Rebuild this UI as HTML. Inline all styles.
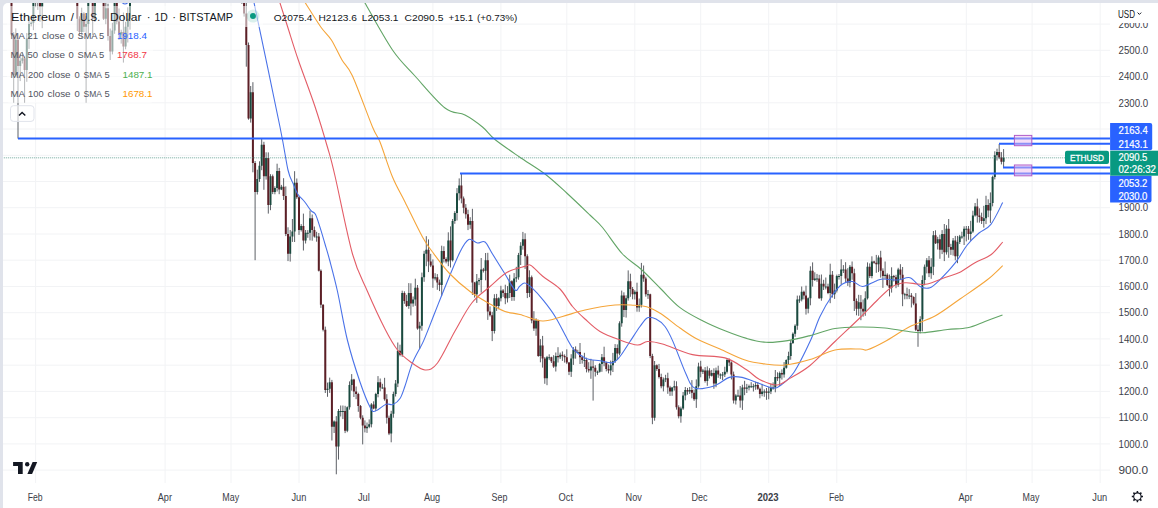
<!DOCTYPE html>
<html><head><meta charset="utf-8">
<style>
html,body{margin:0;padding:0;width:1158px;height:508px;overflow:hidden;background:#e0e3eb;}
#pane{position:absolute;left:3px;top:3px;width:1155px;height:505px;background:#fff;border-top-left-radius:5px;overflow:hidden;}
svg{position:absolute;left:-3px;top:-3px;}
text{font-family:"Liberation Sans",sans-serif;}
</style></head><body>
<div id="pane">
<svg width="1158" height="508" viewBox="0 0 1158 508">
<path d="M0 470.1H1110M0 443.9H1110M0 417.7H1110M0 391.4H1110M0 365.2H1110M0 338.9H1110M0 312.7H1110M0 286.5H1110M0 260.2H1110M0 234H1110M0 207.7H1110M0 181.5H1110M0 155.3H1110M0 129H1110M0 102.8H1110M0 76.5H1110M0 50.3H1110M0 24.1H1110M35.6 0V483M165.1 0V483M231 0V483M299 0V483M364.9 0V483M432.9 0V483M500.9 0V483M566.8 0V483M634.8 0V483M700.7 0V483M768.7 0V483M836.8 0V483M966.3 0V483M1032.1 0V483M1100.2 0V483" stroke="#f2f3f5" stroke-width="1" fill="none"/>
<path d="M15.8 28.4V76.5M20.2 53.6V81.1M22.4 51.9V63.5M26.8 33V81.8M29 16.3V48.9M31.2 21.4V26.4M33.4 -8.8V30.1M35.6 -34.9V7.2M42.2 -86.3V28.2M44.4 -91.1V-70.3M46.6 -100V-84.5M48.8 -132V-80.7M53.2 -156.9V-101.6M57.5 -124V-86.1M64.1 -53.6V-47.3M66.3 -114.2V-41.1M81.7 7.7V38.8M86.1 16.1V102.8M88.3 -34.3V36.9M94.9 -66.9V22M97.1 -76.5V-56.4M105.8 -6V24.2M112.4 22.8V54.4M114.6 -13.8V33.8M121.2 29.7V43.6M125.6 21.8V49.3M127.8 7.3V42.5M130 -26V29.7M132.2 -54V-1.3M134.4 -84.1V-25M136.6 -75.3V-63.9M141 -74.1V-33.8M143.2 -99.4V-30.3M145.3 -93.5V-69.6M147.5 -113.4V-80.7M149.7 -131.9V-95.8M151.9 -132.4V-105.7M154.1 -180.2V-96.9M156.3 -180.7V-152.8M158.5 -196.5V-146.2M165.1 -202V-143.5M167.3 -205.6V-176.5M169.5 -239V-185.7M178.3 -149V-116.9M180.5 -151.3V-132M182.7 -158.6V-143.2M189.2 -103.1V-60.7M191.4 -130.7V-79.2M195.8 -100.1V-82.8M200.2 -109.1V-74.3M202.4 -116.2V-87.1M204.6 -133.6V-95.3M217.8 -98.4V-44.1M222.2 -52.4V-29.4M224.4 -81.4V-31.1M231 -47.2V-4.7M233.1 -60.3V-22.4M237.5 -69.2V-17.6M250.7 86V122.6M257.3 169.7V194.5M259.5 161.3V181.9M261.7 138.5V170.2M266.1 152.3V179.6M270.5 174.2V210.2M274.9 186.3V194.3M277.1 163.7V191.5M281.4 184.9V190.1M290.2 230V261.6M292.4 219V241.9M294.6 171.2V242M301.2 224.1V231.5M305.6 230V243.5M307.8 230.1V237.8M310 210.5V240.4M316.6 231.8V241.7M327.5 382.6V396.8M329.7 377.6V392.9M334.1 420.4V433M338.5 409V459.6M340.7 405.5V416.5M342.9 405.5V419.1M347.3 406.4V432.2M349.5 381.4V409.6M351.7 374.1V390.7M367 422.5V432.9M369.2 419.4V428.2M371.4 403.1V427.4M375.8 392.8V411M378 376.1V397.3M382.4 383.8V388.7M391.2 410.8V442.3M393.4 391.6V417.7M395.6 380V396.5M397.8 342.5V387.1M402.2 290.7V356.8M408.8 283.1V308.8M413.1 296.5V306.7M415.3 278.7V305.8M419.7 321.8V348.9M421.9 272.6V330.7M424.1 250.8V281.8M426.3 236.2V266.2M435.1 273.2V280.4M441.7 245.7V295.8M448.3 232.3V266.2M452.6 219V261.5M454.8 211.2V223.8M457 188.1V220.5M459.2 178.4V200.4M470.2 217.2V228.8M476.8 274V302.9M479 277.9V285.2M481.2 258V292.6M485.6 253V280.3M494.4 294.2V333.5M498.7 297.3V309.2M500.9 285.8V301.4M507.5 286.1V302.5M509.7 274.7V298M514.1 273.1V300.8M516.3 266.8V282.2M518.5 252.9V279.7M520.7 242.2V265M522.9 231.9V249.7M529.5 270.3V297.1M536.1 318.3V335.8M540.4 339.1V362.3M547 355.9V385.2M549.2 354.3V360.1M555.8 352.5V371.5M560.2 352.6V359.1M571.2 354.2V376.9M573.4 347.1V364.9M577.8 349.8V352.8M584.4 352.8V367M590.9 358.8V378.8M597.5 370.6V374.9M599.7 362.9V372.6M601.9 354V371.8M610.7 360.6V375.3M612.9 352.9V372M615.1 344.1V363M619.5 321.3V355.3M621.7 290.6V326.7M626.1 295.3V317.6M628.2 270.4V300.6M634.8 290.2V299.5M639.2 298.5V311.8M641.4 262.9V307.5M648 290V298.9M654.6 361V420.7M663.4 377.5V391.4M665.6 374.8V382.1M672.1 386.9V395.8M674.3 380.7V390.6M680.9 406.6V422.7M683.1 392V409.9M685.3 387V400.3M689.7 387V393.9M696.3 379.4V407.9M698.5 362.7V387.7M702.9 368.9V374M707.3 366.4V385.8M711.7 369.9V376.5M716 367.6V387.2M720.4 373.4V378.9M722.6 372V380.1M724.8 366.7V377M727 358.3V373.5M735.8 394.2V404.5M738 389.7V396.8M742.4 384.7V409.9M746.8 383.9V393M749 384.6V390.4M751.2 382.2V387.8M753.4 383.8V391.5M755.6 381.7V389.8M762.1 383.9V396.3M764.3 389.4V396.8M768.7 386.8V399.3M770.9 383.5V394.1M773.1 382.4V389.7M775.3 370V392.3M779.7 371.5V386.1M784.1 362.1V377.6M786.3 359.4V368.7M788.5 351.7V364.9M790.7 340.2V359.7M792.9 332.4V344M795.1 324.3V336.8M797.3 295.6V329.8M799.5 295.5V302.8M801.7 286.5V301.4M808.2 297.4V313.3M810.4 266.3V305.3M814.8 272.3V281M817 273.9V281.8M821.4 274.5V300.7M825.8 277.5V289.4M830.2 263.7V303.2M834.6 283.6V298.9M836.8 274.6V292.5M839 274V279.6M841.2 259.3V284.7M843.4 265.1V273M849.9 265V287.3M858.7 294.8V315.9M865.3 291.3V315.8M867.5 262.4V299.5M871.9 256.3V278.3M878.5 255.4V272.1M885.1 261.5V278.9M891.6 267.3V292.6M898.2 267.8V286.8M904.8 292.8V299.3M909.2 289.1V299.1M920.2 316.2V333.4M922.4 275.4V331.4M924.6 264.5V285.3M926.8 258.1V273.4M931.2 258.2V278.8M933.4 231V275.1M937.7 236.8V249.5M942.1 230.1V254.1M946.5 225.2V254.6M953.1 238V255.6M957.5 235.9V263.2M959.7 234.9V244M961.9 231.7V238.8M964.1 226.3V245M966.3 226V241.4M970.7 220.8V240.9M972.9 210.7V232.9M975.1 203V216.7M983.8 205.8V227.6M986 195.8V224.1M990.4 192.4V222.9M992.6 175.7V206.4M994.8 151.3V179.4M997 148.7V160.5M1003.6 149.1V167.6M7.1 -135.2V-97.1M9.3 -112.6V-76.8M11.5 -85.2V35.7M13.7 32.2V102.8M18 33.2V138.6M24.6 56.3V102.8M37.8 -40.8V9.9M40 -6.6V21.8M51 -125.1V-93.8M55.4 -167.1V-88.8M59.7 -139.8V-46M61.9 -68.4V-40.4M68.5 -115.9V-91.8M70.7 -101.1V-37.4M72.9 -64.6V-10.2M75.1 -32.6V-7.1M77.3 -29.4V31.1M79.5 16.3V34.9M83.9 12.2V32.1M90.5 -26.4V-3.2M92.7 -38.1V35M99.3 -76.1V-62.9M101.4 -68.8V-35.5M103.6 -41.4V20M108 3.7V40.6M110.2 28.5V60M116.8 -15.4V24.3M119 8.5V40M123.4 12.5V62.6M138.8 -70.7V-41.4M160.7 -199.7V-166.6M162.9 -202V-146.8M171.7 -222.4V-209.3M173.9 -232.7V-168.5M176.1 -199.4V-101.6M184.9 -163.3V-122M187.1 -153.2V-66.5M193.6 -129.5V-81.9M198 -101.5V-67.7M206.8 -141.3V-90.3M209 -112.8V-65.9M211.2 -87.7V-58.2M213.4 -86.1V-53M215.6 -87.7V-51.6M220 -83.1V-26.1M226.6 -72.8V-26.6M228.8 -42.3V-0.7M235.3 -49.2V-17.4M239.7 -67.9V-3.3M241.9 -17.3V3.8M244.1 -12.1V16.6M246.3 -4.5V66.7M248.5 42.5V119.7M252.9 82.2V172.3M255.1 161V260.2M263.9 141.8V189.8M268.3 152.4V213.6M272.7 174.5V194.1M279.2 167.9V194.2M283.6 178.2V200M285.8 186.4V236.1M288 227.3V261.1M296.8 178.5V198.9M299 196.1V234.9M303.4 213.6V250.5M312.2 214.5V240.7M314.4 226.5V237.6M318.8 233V271.5M320.9 269.4V307.9M323.1 304.2V331.4M325.3 326.6V393M331.9 379.9V440.5M336.3 416.1V474.3M345.1 405.8V433.1M353.9 378.8V397M356.1 386.5V399.2M358.3 392.7V411.8M360.5 405V419.3M362.7 415.3V444.4M364.9 420.4V432.4M373.6 401.3V409.2M380.2 378.5V391.3M384.6 377.8V400.7M386.8 394.2V423.6M389 415.6V435.1M400 344.7V356.3M404.4 291.3V303.8M406.6 294.8V307M410.9 283.3V315.4M417.5 285V329.7M428.5 239.4V272.1M430.7 253.8V267.1M432.9 259.4V287.8M437.3 274.1V289.8M439.5 279.6V291.1M443.9 246.3V262.5M446.1 257.3V263.4M450.5 226.4V267.5M461.4 173.6V203.3M463.6 196.5V213.3M465.8 204.1V218.6M468 209.7V230.1M472.4 208.8V294.9M474.6 281.9V297.6M483.4 267.9V272.5M487.8 252.8V319.9M490 306.4V316.6M492.2 311.8V341.1M496.6 293.9V310.9M503.1 289.1V296.9M505.3 284.7V304.2M511.9 280.2V300.9M525.1 233.3V268.9M527.3 254.3V298.1M531.7 275.5V323.3M533.9 311.2V330.9M538.3 319.8V356.8M542.6 335.9V367.6M544.8 357V383.8M551.4 356.7V363M553.6 355.2V367.9M558 347.2V362.5M562.4 351.4V360.9M564.6 354.4V362.6M566.8 349.3V364.1M569 361.9V375.1M575.6 346.4V358.7M580 343V364M582.2 355.7V363.6M586.5 357.7V372.4M588.7 362.2V372.5M593.1 360.2V400.6M595.3 365.2V376.5M604.1 346.7V366.3M606.3 361.7V371.4M608.5 364.5V373.4M617.3 344.4V359.8M623.9 292.3V317.1M630.4 273.7V296.8M632.6 287V299.3M637 282.7V311.7M643.6 265.5V281.8M645.8 276.7V296.7M650.2 293.7V358.1M652.4 353.8V424.2M656.8 364.4V370.9M659 363.9V378.5M661.2 373.7V388.3M667.8 372.7V393.8M670 385.8V395.9M676.5 381.3V409.6M678.7 405.3V418.4M687.5 387.9V394.7M691.9 380.1V398.3M694.1 389.5V400.9M700.7 360.8V377.3M705.1 367.1V382.6M709.5 368.2V378.5M713.9 368.3V388.8M718.2 365.7V377.8M729.2 358.5V366.1M731.4 361.4V379.4M733.6 371.6V403.5M740.2 386V407.7M744.6 380.8V395.2M757.8 382V389.9M759.9 387.6V398.3M766.5 388V399.8M777.5 372.3V380.9M781.9 369.4V379.6M803.9 290.6V299.4M806 285.7V314.6M812.6 262.4V286.6M819.2 274.8V298.9M823.6 279.8V290M828 283.7V294.2M832.4 271V297.6M845.6 262.2V283M847.8 268.2V285.9M852.1 261.5V279.8M854.3 268.7V311M856.5 298.5V315.3M860.9 295.1V320.2M863.1 299.5V316.7M869.7 263.4V277.9M874.1 260.7V263.8M876.3 254.9V272.8M880.7 250.8V277.6M882.9 268.3V287.9M887.3 273.3V286.1M889.5 274.5V296.4M893.8 274.9V281.5M896 274.8V288.2M900.4 264.2V279.4M902.6 267V306.2M907 287.6V299.2M911.4 293.1V307.5M913.6 296.3V305.2M915.8 293.1V331.1M918 325.2V346.8M929 256V277.1M935.5 230.3V244M939.9 234.7V258.8M944.3 224V261.1M948.7 219V257.8M950.9 243.8V254.9M955.3 235.9V260.3M968.5 226V239.8M977.3 198.6V222.6M979.4 208.3V222.6M981.6 212.7V224M988.2 199.3V217.2M999.2 144V159.2M1001.4 152.1V164.4" stroke="#5d6066" stroke-width="1" fill="none"/>
<path d="M14.8 39.8h2V75.2h-2ZM19.2 60.8h2V66h-2ZM21.4 58.2h2V60.8h-2ZM25.8 38.5h2V70h-2ZM28 24.1h2V38.5h-2ZM30.2 22.7h2V24.1h-2ZM32.4 0.4h2V22.7h-2ZM34.6 -25.8h2V0.4h-2ZM41.2 -78.3h2V7h-2ZM43.4 -86.1h2V-78.3h-2ZM45.6 -94h2V-86.1h-2ZM47.8 -115h2V-94h-2ZM52.2 -143.9h2V-112.4h-2ZM56.5 -120.3h2V-101.9h-2ZM63.1 -49.4h2V-48.4h-2ZM65.3 -112.4h2V-49.4h-2ZM80.7 13.6h2V31.9h-2ZM85.1 24.1h2V26.7h-2ZM87.3 -23.2h2V24.1h-2ZM93.9 -59.9h2V18.8h-2ZM96.1 -73h2V-59.9h-2ZM104.8 8.3h2V18.8h-2ZM111.4 30.6h2V51.6h-2ZM113.6 -10.1h2V30.6h-2ZM120.2 31.9h2V34.6h-2ZM124.6 26.7h2V46.4h-2ZM126.8 18.8h2V26.7h-2ZM129 -21.9h2V18.8h-2ZM131.2 -32.4h2V-21.9h-2ZM133.4 -66.5h2V-32.4h-2ZM135.6 -67.8h2V-66.5h-2ZM140 -54.7h2V-44.2h-2ZM142.2 -74.3h2V-54.7h-2ZM144.3 -88.8h2V-74.3h-2ZM146.5 -109.8h2V-88.8h-2ZM148.7 -109.8h2V-108.8h-2ZM150.9 -115h2V-109.8h-2ZM153.1 -159.6h2V-115h-2ZM155.3 -167.5h2V-159.6h-2ZM157.5 -185.9h2V-167.5h-2ZM164.1 -199h2V-154.4h-2ZM166.3 -199h2V-198h-2ZM168.5 -217.3h2V-199h-2ZM177.3 -141.3h2V-125.5h-2ZM179.5 -146.5h2V-141.3h-2ZM181.7 -151.7h2V-146.5h-2ZM188.2 -88.8h2V-75.7h-2ZM190.4 -128.1h2V-88.8h-2ZM194.8 -94h2V-91.4h-2ZM199.2 -94h2V-78.3h-2ZM201.4 -109.8h2V-94h-2ZM203.6 -120.3h2V-109.8h-2ZM216.8 -80.9h2V-59.9h-2ZM221.2 -49.4h2V-31h-2ZM223.4 -65.2h2V-49.4h-2ZM230 -36.3h2V-10.1h-2ZM232.1 -44.2h2V-36.3h-2ZM236.5 -65.2h2V-23.2h-2ZM249.7 92.3h2V118.5h-2ZM256.3 178.9h2V192h-2ZM258.5 165.8h2V178.9h-2ZM260.7 144.8h2V165.8h-2ZM265.1 157.9h2V176.3h-2ZM269.5 176.3h2V205.1h-2ZM273.9 188.1h2V192h-2ZM276.1 171h2V188.1h-2ZM280.4 186.7h2V189.4h-2ZM289.2 236.6h2V253.7h-2ZM291.4 231.4h2V236.6h-2ZM293.6 182.8h2V231.4h-2ZM300.2 226.1h2V230h-2ZM304.6 232.7h2V240.5h-2ZM306.8 232.7h2V233.7h-2ZM309 218.2h2V232.7h-2ZM315.6 236.6h2V237.6h-2ZM326.5 388.8h2V390.1h-2ZM328.7 382.2h2V388.8h-2ZM333.1 421.6h2V426.8h-2ZM337.5 411.1h2V446.5h-2ZM339.7 411.1h2V412.1h-2ZM341.9 411.1h2V412.1h-2ZM346.3 407.2h2V430.8h-2ZM348.5 384.9h2V407.2h-2ZM350.7 379.6h2V384.9h-2ZM366 426.8h2V428.2h-2ZM368.2 424.2h2V426.8h-2ZM370.4 404.5h2V424.2h-2ZM374.8 394h2V408.5h-2ZM377 382.2h2V394h-2ZM381.4 387.5h2V388.5h-2ZM390.2 413.7h2V433.4h-2ZM392.4 394h2V413.7h-2ZM394.6 383.5h2V394h-2ZM396.8 350.7h2V383.5h-2ZM401.2 293h2V354.7h-2ZM407.8 293h2V306.1h-2ZM412.1 299.6h2V303.5h-2ZM414.3 287.8h2V299.6h-2ZM418.7 325.8h2V328.4h-2ZM420.9 277.3h2V325.8h-2ZM423.1 253.7h2V277.3h-2ZM425.3 249.7h2V253.7h-2ZM434.1 277.3h2V278.6h-2ZM440.7 251h2V285.1h-2ZM447.3 240.5h2V261.5h-2ZM451.6 220.9h2V260.2h-2ZM453.8 213h2V220.9h-2ZM456 193.3h2V213h-2ZM458.2 185.4h2V193.3h-2ZM469.2 220.9h2V224.8h-2ZM475.8 281.2h2V294.3h-2ZM478 279.9h2V281.2h-2ZM480.2 269.4h2V279.9h-2ZM484.6 260.2h2V270.7h-2ZM493.4 298.3h2V331.1h-2ZM497.7 298.3h2V306.1h-2ZM499.9 290.4h2V298.3h-2ZM506.5 293h2V298.3h-2ZM508.7 281.2h2V293h-2ZM513.1 278.6h2V297h-2ZM515.3 277.3h2V278.6h-2ZM517.5 255h2V277.3h-2ZM519.7 245.8h2V255h-2ZM521.9 239.2h2V245.8h-2ZM528.5 277.3h2V293h-2ZM535.1 320.6h2V328.4h-2ZM539.4 345.5h2V356h-2ZM546 357.3h2V378.3h-2ZM548.2 357.3h2V358.3h-2ZM554.8 356h2V366.5h-2ZM559.2 354.7h2V357.3h-2ZM570.2 358.6h2V371.7h-2ZM572.4 349.4h2V358.6h-2ZM576.8 352.1h2V353.1h-2ZM583.4 359.9h2V360.9h-2ZM589.9 366.5h2V370.4h-2ZM596.5 371.7h2V372.7h-2ZM598.7 363.9h2V371.7h-2ZM600.9 357.3h2V363.9h-2ZM609.7 365.2h2V370.4h-2ZM611.9 361.2h2V365.2h-2ZM614.1 348.1h2V361.2h-2ZM618.5 323.2h2V353.4h-2ZM620.7 295.6h2V323.2h-2ZM625.1 298.3h2V310.1h-2ZM627.2 281.2h2V298.3h-2ZM633.8 291.7h2V294.3h-2ZM638.2 304.8h2V307.5h-2ZM640.4 274.7h2V304.8h-2ZM647 294.3h2V295.3h-2ZM653.6 365.2h2V417.7h-2ZM662.4 379.6h2V386.2h-2ZM664.6 378.3h2V379.6h-2ZM671.1 387.5h2V391.4h-2ZM673.3 386.2h2V387.5h-2ZM679.9 408.5h2V416.3h-2ZM682.1 395.4h2V408.5h-2ZM684.3 390.1h2V395.4h-2ZM688.7 390.1h2V391.4h-2ZM695.3 386.2h2V399.3h-2ZM697.5 366.5h2V386.2h-2ZM701.9 370.4h2V371.7h-2ZM706.3 370.4h2V380.9h-2ZM710.7 373.1h2V375.7h-2ZM715 370.4h2V383.5h-2ZM719.4 374.4h2V375.4h-2ZM721.6 374.4h2V375.4h-2ZM723.8 371.7h2V374.4h-2ZM726 359.9h2V371.7h-2ZM734.8 395.4h2V400.6h-2ZM737 395.4h2V396.4h-2ZM741.4 387.5h2V400.6h-2ZM745.8 387.5h2V388.8h-2ZM748 386.2h2V387.5h-2ZM750.2 386.2h2V387.2h-2ZM752.4 386.2h2V387.2h-2ZM754.6 384.9h2V386.2h-2ZM761.1 391.4h2V394h-2ZM763.3 391.4h2V392.4h-2ZM767.7 391.4h2V392.7h-2ZM769.9 387.5h2V391.4h-2ZM772.1 387.5h2V388.5h-2ZM774.3 377h2V387.5h-2ZM778.7 373.1h2V378.3h-2ZM783.1 367.8h2V374.4h-2ZM785.3 359.9h2V367.8h-2ZM787.5 356h2V359.9h-2ZM789.7 342.9h2V356h-2ZM791.9 333.7h2V342.9h-2ZM794.1 325.8h2V333.7h-2ZM796.3 299.6h2V325.8h-2ZM798.5 299.6h2V300.6h-2ZM800.7 291.7h2V299.6h-2ZM807.2 298.3h2V308.8h-2ZM809.4 270.7h2V298.3h-2ZM813.8 278.6h2V279.9h-2ZM816 278.6h2V279.6h-2ZM820.4 283.8h2V298.3h-2ZM824.8 286.5h2V287.5h-2ZM829.2 274.7h2V293h-2ZM833.6 290.4h2V294.3h-2ZM835.8 276h2V290.4h-2ZM838 276h2V277h-2ZM840.2 269.4h2V276h-2ZM842.4 269.4h2V270.4h-2ZM848.9 266.8h2V282.5h-2ZM857.7 302.2h2V308.8h-2ZM864.3 298.3h2V311.4h-2ZM866.5 266.8h2V298.3h-2ZM870.9 261.5h2V276h-2ZM877.5 257.6h2V264.2h-2ZM884.1 274.7h2V276h-2ZM890.6 276h2V287.8h-2ZM897.2 269.4h2V285.1h-2ZM903.8 294.3h2V295.3h-2ZM908.2 295.6h2V296.6h-2ZM919.2 319.3h2V331.1h-2ZM921.4 279.9h2V319.3h-2ZM923.6 266.8h2V279.9h-2ZM925.8 260.2h2V266.8h-2ZM930.2 266.8h2V273.3h-2ZM932.4 235.3h2V266.8h-2ZM936.7 239.2h2V243.2h-2ZM941.1 234h2V249.7h-2ZM945.5 228.7h2V252.3h-2ZM952.1 240.5h2V249.7h-2ZM956.5 241.9h2V256.3h-2ZM958.7 236.6h2V241.9h-2ZM960.9 236.6h2V237.6h-2ZM963.1 228.7h2V236.6h-2ZM965.3 228.7h2V229.7h-2ZM969.7 231.4h2V234h-2ZM971.9 215.6h2V231.4h-2ZM974.1 206.4h2V215.6h-2ZM982.8 218.2h2V220.9h-2ZM985 205.1h2V218.2h-2ZM989.4 203h2V210.4h-2ZM991.6 177h2V203h-2ZM993.8 155.3h2V177h-2ZM996 152.1h2V155.3h-2ZM1002.6 157.8h2V161.7h-2Z" fill="#1a4a3f" stroke="none"/>
<path d="M6.1 -131.5h2V-107.1h-2ZM8.3 -107.1h2V-80.9h-2ZM10.5 -80.9h2V34.6h-2ZM12.7 34.6h2V75.2h-2ZM17 39.8h2V66h-2ZM23.6 58.2h2V70h-2ZM36.8 -25.8h2V3.1h-2ZM39 3.1h2V7h-2ZM50 -115h2V-112.4h-2ZM54.4 -143.9h2V-101.9h-2ZM58.7 -120.3h2V-62.5h-2ZM60.9 -62.5h2V-49.4h-2ZM67.5 -112.4h2V-96.6h-2ZM69.7 -96.6h2V-49.4h-2ZM71.9 -49.4h2V-24.5h-2ZM74.1 -24.5h2V-17.9h-2ZM76.3 -17.9h2V18.8h-2ZM78.5 18.8h2V31.9h-2ZM82.9 13.6h2V26.7h-2ZM89.5 -23.2h2V-20.5h-2ZM91.7 -20.5h2V18.8h-2ZM98.3 -73h2V-67.8h-2ZM100.4 -67.8h2V-37.6h-2ZM102.6 -37.6h2V18.8h-2ZM107 8.3h2V35.9h-2ZM109.2 35.9h2V51.6h-2ZM115.8 -10.1h2V21.4h-2ZM118 21.4h2V34.6h-2ZM122.4 31.9h2V46.4h-2ZM137.8 -67.8h2V-44.2h-2ZM159.7 -185.9h2V-180.6h-2ZM161.9 -180.6h2V-154.4h-2ZM170.7 -217.3h2V-212.1h-2ZM172.9 -212.1h2V-185.9h-2ZM175.1 -185.9h2V-125.5h-2ZM183.9 -151.7h2V-136h-2ZM186.1 -136h2V-75.7h-2ZM192.6 -128.1h2V-91.4h-2ZM197 -94h2V-78.3h-2ZM205.8 -120.3h2V-101.9h-2ZM208 -101.9h2V-77h-2ZM210.2 -77h2V-70.4h-2ZM212.4 -70.4h2V-65.2h-2ZM214.6 -65.2h2V-59.9h-2ZM219 -80.9h2V-31h-2ZM225.6 -65.2h2V-33.7h-2ZM227.8 -33.7h2V-10.1h-2ZM234.3 -44.2h2V-23.2h-2ZM238.7 -65.2h2V-15.3h-2ZM240.9 -15.3h2V-2.2h-2ZM243.1 -2.2h2V13.6h-2ZM245.3 13.6h2V45.1h-2ZM247.5 45.1h2V118.5h-2ZM251.9 92.3h2V163.1h-2ZM254.1 163.1h2V192h-2ZM262.9 144.8h2V176.3h-2ZM267.3 157.9h2V205.1h-2ZM271.7 176.3h2V192h-2ZM278.2 171h2V189.4h-2ZM282.6 186.7h2V195.9h-2ZM284.8 195.9h2V234h-2ZM287 234h2V253.7h-2ZM295.8 182.8h2V197.2h-2ZM298 197.2h2V230h-2ZM302.4 226.1h2V240.5h-2ZM311.2 218.2h2V230h-2ZM313.4 230h2V236.6h-2ZM317.8 236.6h2V270.7h-2ZM319.9 270.7h2V304.8h-2ZM322.1 304.8h2V329.8h-2ZM324.3 329.8h2V390.1h-2ZM330.9 382.2h2V426.8h-2ZM335.3 421.6h2V446.5h-2ZM344.1 411.1h2V430.8h-2ZM352.9 379.6h2V391.4h-2ZM355.1 391.4h2V394h-2ZM357.3 394h2V405.9h-2ZM359.5 405.9h2V417.7h-2ZM361.7 417.7h2V425.5h-2ZM363.9 425.5h2V428.2h-2ZM372.6 404.5h2V408.5h-2ZM379.2 382.2h2V387.5h-2ZM383.6 387.5h2V399.3h-2ZM385.8 399.3h2V417.7h-2ZM388 417.7h2V433.4h-2ZM399 350.7h2V354.7h-2ZM403.4 293h2V300.9h-2ZM405.6 300.9h2V306.1h-2ZM409.9 293h2V303.5h-2ZM416.5 287.8h2V328.4h-2ZM427.5 249.7h2V261.5h-2ZM429.7 261.5h2V265.5h-2ZM431.9 265.5h2V278.6h-2ZM436.3 277.3h2V282.5h-2ZM438.5 282.5h2V285.1h-2ZM442.9 251h2V258.9h-2ZM445.1 258.9h2V261.5h-2ZM449.5 240.5h2V260.2h-2ZM460.4 185.4h2V198.6h-2ZM462.6 198.6h2V207.7h-2ZM464.8 207.7h2V214.3h-2ZM467 214.3h2V224.8h-2ZM471.4 220.9h2V282.5h-2ZM473.6 282.5h2V294.3h-2ZM482.4 269.4h2V270.7h-2ZM486.8 260.2h2V311.4h-2ZM489 311.4h2V315.3h-2ZM491.2 315.3h2V331.1h-2ZM495.6 298.3h2V306.1h-2ZM502.1 290.4h2V293h-2ZM504.3 293h2V298.3h-2ZM510.9 281.2h2V297h-2ZM524.1 239.2h2V256.3h-2ZM526.3 256.3h2V293h-2ZM530.7 277.3h2V320.6h-2ZM532.9 320.6h2V328.4h-2ZM537.3 320.6h2V356h-2ZM541.6 345.5h2V358.6h-2ZM543.8 358.6h2V378.3h-2ZM550.4 357.3h2V361.2h-2ZM552.6 361.2h2V366.5h-2ZM557 356h2V357.3h-2ZM561.4 354.7h2V356h-2ZM563.6 356h2V357.3h-2ZM565.8 357.3h2V362.6h-2ZM568 362.6h2V371.7h-2ZM574.6 349.4h2V352.1h-2ZM579 352.1h2V357.3h-2ZM581.2 357.3h2V359.9h-2ZM585.5 359.9h2V369.1h-2ZM587.7 369.1h2V370.4h-2ZM592.1 366.5h2V367.8h-2ZM594.3 367.8h2V371.7h-2ZM603.1 357.3h2V362.6h-2ZM605.3 362.6h2V369.1h-2ZM607.5 369.1h2V370.4h-2ZM616.3 348.1h2V353.4h-2ZM622.9 295.6h2V310.1h-2ZM629.4 281.2h2V289.1h-2ZM631.6 289.1h2V294.3h-2ZM636 291.7h2V307.5h-2ZM642.6 274.7h2V278.6h-2ZM644.8 278.6h2V294.3h-2ZM649.2 294.3h2V356h-2ZM651.4 356h2V417.7h-2ZM655.8 365.2h2V369.1h-2ZM658 369.1h2V377h-2ZM660.2 377h2V386.2h-2ZM666.8 378.3h2V387.5h-2ZM669 387.5h2V391.4h-2ZM675.5 386.2h2V407.2h-2ZM677.7 407.2h2V416.3h-2ZM686.5 390.1h2V391.4h-2ZM690.9 390.1h2V392.7h-2ZM693.1 392.7h2V399.3h-2ZM699.7 366.5h2V371.7h-2ZM704.1 370.4h2V380.9h-2ZM708.5 370.4h2V375.7h-2ZM712.9 373.1h2V383.5h-2ZM717.2 370.4h2V374.4h-2ZM728.2 359.9h2V362.6h-2ZM730.4 362.6h2V374.4h-2ZM732.6 374.4h2V400.6h-2ZM739.2 395.4h2V400.6h-2ZM743.6 387.5h2V388.8h-2ZM756.8 384.9h2V388.8h-2ZM758.9 388.8h2V394h-2ZM765.5 391.4h2V392.7h-2ZM776.5 377h2V378.3h-2ZM780.9 373.1h2V374.4h-2ZM802.9 291.7h2V295.6h-2ZM805 295.6h2V308.8h-2ZM811.6 270.7h2V279.9h-2ZM818.2 278.6h2V298.3h-2ZM822.6 283.8h2V286.5h-2ZM827 286.5h2V293h-2ZM831.4 274.7h2V294.3h-2ZM844.6 269.4h2V278.6h-2ZM846.8 278.6h2V282.5h-2ZM851.1 266.8h2V273.3h-2ZM853.3 273.3h2V300.9h-2ZM855.5 300.9h2V308.8h-2ZM859.9 302.2h2V308.8h-2ZM862.1 308.8h2V311.4h-2ZM868.7 266.8h2V276h-2ZM873.1 261.5h2V262.8h-2ZM875.3 262.8h2V264.2h-2ZM879.7 257.6h2V270.7h-2ZM881.9 270.7h2V276h-2ZM886.3 274.7h2V285.1h-2ZM888.5 285.1h2V287.8h-2ZM892.8 276h2V277.3h-2ZM895 277.3h2V285.1h-2ZM899.4 269.4h2V274.7h-2ZM901.6 274.7h2V294.3h-2ZM906 294.3h2V295.6h-2ZM910.4 295.6h2V297h-2ZM912.6 297h2V303.5h-2ZM914.8 303.5h2V329.8h-2ZM917 329.8h2V331.1h-2ZM928 260.2h2V273.3h-2ZM934.5 235.3h2V243.2h-2ZM938.9 239.2h2V249.7h-2ZM943.3 234h2V252.3h-2ZM947.7 228.7h2V247.1h-2ZM949.9 247.1h2V249.7h-2ZM954.3 240.5h2V256.3h-2ZM967.5 228.7h2V234h-2ZM976.3 206.4h2V215.6h-2ZM978.4 215.6h2V216.9h-2ZM980.6 216.9h2V220.9h-2ZM987.2 205.1h2V210.4h-2ZM998.2 152.1h2V157.6h-2ZM1000.4 157.6h2V161.7h-2Z" fill="#5c1f26" stroke="none"/>
<path d="M117 -2C118.33 -1 122.33 4 125 4C127.67 4 131.67 -1 133 -2M252 -3C252.33 -2.08 249.33 -19.17 254 2.5C258.67 24.17 274.33 99.08 280 127C285.67 154.92 285.78 160.5 288 170C290.22 179.5 291.68 180 293.3 184C294.92 188 295.78 191 297.7 194C299.62 197 302.58 199.22 304.8 202C307.02 204.78 309.23 208.67 311 210.7C312.77 212.73 313.93 211.55 315.4 214.2C316.87 216.85 318.2 221.63 319.8 226.6C321.4 231.57 323.37 238.43 325 244C326.63 249.57 327.52 252.08 329.6 260C331.68 267.92 334.52 278.08 337.5 291.5C340.48 304.92 343.75 325.42 347.5 340.5C351.25 355.58 356.17 370.75 360 382C363.83 393.25 367.92 403.17 370.5 408C373.08 412.83 372.92 411.62 375.5 411C378.08 410.38 383.08 405.38 386 404.3C388.92 403.22 390.67 405.47 393 404.5C395.33 403.53 398 401.58 400 398.5C402 395.42 402.9 391.98 405 386C407.1 380.02 409.48 370.17 412.6 362.6C415.72 355.03 420.02 348.87 423.7 340.6C427.38 332.33 431.03 322.18 434.7 313C438.37 303.82 441.48 295.67 445.7 285.5C449.92 275.33 456.16 259.67 460 252C463.84 244.33 465.83 241 468.75 239.5C471.67 238 474.79 242.58 477.5 243C480.21 243.42 482.5 240.17 485 242C487.5 243.83 489.17 248.67 492.5 254C495.83 259.33 501.25 268 505 274C508.75 280 512.58 287.92 515 290C517.42 292.08 517.88 287.67 519.5 286.5C521.12 285.33 522.65 282.8 524.7 283C526.75 283.2 528.65 284.75 531.8 287.7C534.95 290.65 539.67 295.82 543.6 300.7C547.53 305.58 551.5 310.72 555.4 317C559.3 323.28 563.87 332.87 567 338.4C570.13 343.93 571.03 346.87 574.2 350.2C577.37 353.53 581.7 356.63 586 358.4C590.3 360.17 595.58 360.07 600 360.8C604.42 361.53 609.17 363.47 612.5 362.75C615.83 362.03 617.08 360.04 620 356.5C622.92 352.96 626.67 346.5 630 341.5C633.33 336.5 637.08 330.46 640 326.5C642.92 322.54 644.83 319 647.5 317.75C650.17 316.5 653.08 317.54 656 319C658.92 320.46 662.17 322.73 665 326.5C667.83 330.27 669.5 333.68 673 341.6C676.5 349.52 682.4 366.27 686 374C689.6 381.73 689.93 386 694.6 388C699.27 390 708.22 387.77 714 386C719.78 384.23 724.63 378.83 729.3 377.4C733.97 375.97 737.32 376.5 742 377.4C746.68 378.3 752.32 381.03 757.4 382.8C762.48 384.57 768.57 387.63 772.5 388C776.43 388.37 777.38 387.67 781 385C784.62 382.33 789.37 379.23 794.2 372C799.03 364.77 805.7 350.85 810 341.6C814.3 332.35 816.25 324.27 820 316.5C823.75 308.73 828.75 300.42 832.5 295C836.25 289.58 839.17 286.25 842.5 284C845.83 281.75 849.17 281.08 852.5 281.5C855.83 281.92 858.75 286.5 862.5 286.5C866.25 286.5 871.67 282.75 875 281.5C878.33 280.25 878.75 279.25 882.5 279C886.25 278.75 892.92 280.21 897.5 280C902.08 279.79 906.25 276.67 910 277.75C913.75 278.83 916.67 284.83 920 286.5C923.33 288.17 926.72 288.83 930 287.75C933.28 286.67 935.47 284.18 939.7 280C943.93 275.82 950.82 268.53 955.4 262.7C959.98 256.87 963.27 249.95 967.2 245C971.13 240.05 975.05 236.45 979 233C982.95 229.55 986.95 229.37 990.9 224.3C994.85 219.23 1000.73 206.22 1002.7 202.6" stroke="#4a72e8" stroke-width="1.1" fill="none"/>
<path d="M278 -3C278.33 -2 278.38 -2 280 3C281.62 8 284.65 17.5 287.7 27C290.75 36.5 293.78 46.83 298.3 60C302.82 73.17 309.85 91.17 314.8 106C319.75 120.83 324.63 137.33 328 149C331.37 160.67 330.92 158.5 335 176C339.08 193.5 347.08 234.75 352.5 254C357.92 273.25 362.08 279 367.5 291.5C372.92 304 380 319.25 385 329C390 338.75 393.33 344.58 397.5 350C401.67 355.42 405.42 358.17 410 361.5C414.58 364.83 420.42 369.75 425 370C429.58 370.25 432.5 369.5 437.5 363C442.5 356.5 449.28 341 455 331C460.72 321 466.05 310.33 471.8 303C477.55 295.67 483.6 292.12 489.5 287C495.4 281.88 501.28 275.73 507.2 272.3C513.12 268.87 521.03 267.55 525 266.4C528.97 265.25 528.05 263.75 531 265.4C533.95 267.05 537.87 272.37 542.7 276.3C547.53 280.23 555.03 283.97 560 289C564.97 294.03 568.33 301.5 572.5 306.5C576.67 311.5 580.42 314.83 585 319C589.58 323.17 594.17 328 600 331.5C605.83 335 613.75 337.75 620 340C626.25 342.25 632.92 344.75 637.5 345C642.08 345.25 643.33 341.67 647.5 341.5C651.67 341.33 655 341.82 662.5 344C670 346.18 682.08 352.28 692.5 354.6C702.92 356.92 715.98 355.37 725 357.9C734.02 360.43 740.83 366.2 746.6 369.8C752.37 373.4 754.55 376.97 759.6 379.5C764.65 382.03 771.85 385.18 776.9 385C781.95 384.82 784.38 381.65 789.9 378.4C795.42 375.15 802.48 371.65 810 365.5C817.52 359.35 826.67 349.46 835 341.5C843.33 333.54 852.92 324.67 860 317.75C867.08 310.83 872.08 305.21 877.5 300C882.92 294.79 887.92 289.38 892.5 286.5C897.08 283.62 900.83 283.17 905 282.75C909.17 282.33 913.75 283.79 917.5 284C921.25 284.21 922.92 285.08 927.5 284C932.08 282.92 939.68 279.42 945 277.5C950.32 275.58 954.4 274.97 959.4 272.5C964.4 270.03 969.75 265.65 975 262.7C980.25 259.75 986.28 258.25 990.9 254.8C995.52 251.35 1000.73 244.13 1002.7 242" stroke="#e35d67" stroke-width="1.1" fill="none"/>
<path d="M303 -1C303.4 -0.33 302.43 -1.67 305.4 3C308.37 7.67 316.47 20.83 320.8 27C325.13 33.17 327.87 34.5 331.4 40C334.93 45.5 338.48 54 342 60C345.52 66 347.42 64.83 352.5 76C357.58 87.17 367.92 116 372.5 127C377.08 138 376.67 133.67 380 142C383.33 150.33 388.33 167 392.5 177C396.67 187 400 192 405 202C410 212 417.92 228.67 422.5 237C427.08 245.33 427.92 245.83 432.5 252C437.08 258.17 443.75 267.42 450 274C456.25 280.58 463.33 286.5 470 291.5C476.67 296.5 484.17 300.67 490 304C495.83 307.33 500 309.75 505 311.5C510 313.25 513.75 312.92 520 314.5C526.25 316.08 535.42 320.67 542.5 321C549.58 321.33 555.42 318.33 562.5 316.5C569.58 314.67 576.25 311.92 585 310C593.75 308.08 606.78 305.78 615 305C623.22 304.22 629.02 305.02 634.3 305.3C639.58 305.58 642.25 305.28 646.7 306.7C651.15 308.12 655.45 310.25 661 313.8C666.55 317.35 674 323.8 680 328C686 332.2 690.33 335.5 697 339C703.67 342.5 712 345.5 720 349C728 352.5 737.5 357.5 745 360C752.5 362.5 758.33 363.17 765 364C771.67 364.83 777.5 365.75 785 365C792.5 364.25 801.67 362 810 359.5C818.33 357 826.67 351.75 835 350C843.33 348.25 854.58 349.04 860 349C865.42 348.96 863.33 351 867.5 349.75C871.67 348.5 877.92 345.38 885 341.5C892.08 337.62 901.67 330.75 910 326.5C918.33 322.25 926.67 320.58 935 316C943.33 311.42 951.33 305 960 299C968.67 293 979.88 285.57 987 280C994.12 274.43 1000.08 268 1002.7 265.6" stroke="#f5a53a" stroke-width="1.1" fill="none"/>
<path d="M362 -3C362.5 -2 359.92 -5.83 365 3C370.08 11.83 384.17 37.83 392.5 50C400.83 62.17 406.25 66.33 415 76C423.75 85.67 436.67 101.5 445 108C453.33 114.5 458.75 111.83 465 115C471.25 118.17 477.5 122.92 482.5 127C487.5 131.08 488.83 134.5 495 139.5C501.17 144.5 511.22 151.28 519.5 157C527.78 162.72 536.83 167.8 544.7 173.8C552.57 179.8 559.17 186.13 566.7 193C574.23 199.87 583.93 209.25 589.9 215C595.87 220.75 597.07 221 602.5 227.5C607.93 234 616.02 247 622.5 254C628.98 261 634.98 263.67 641.4 269.5C647.82 275.33 654.57 282.65 661 289C667.43 295.35 673 302.27 680 307.6C687 312.93 695.5 317.13 703 321C710.5 324.87 717.73 327.9 725 330.8C732.27 333.7 739.77 336.48 746.6 338.4C753.43 340.32 759.15 341.93 766 342.3C772.85 342.67 780.37 341.72 787.7 340.6C795.03 339.48 802.12 337.62 810 335.6C817.88 333.58 826.67 329.93 835 328.5C843.33 327.07 851.67 327.08 860 327C868.33 326.92 877.5 327.33 885 328C892.5 328.67 898.75 330.21 905 331C911.25 331.79 915.42 333 922.5 332.75C929.58 332.5 940 330.33 947.5 329.5C955 328.67 961.25 329.08 967.5 327.75C973.75 326.42 979.17 323.62 985 321.5C990.83 319.38 999.58 316.08 1002.5 315" stroke="#62a566" stroke-width="1.1" fill="none"/>
<!-- legend backgrounds -->
<rect x="7" y="6" width="256" height="21" rx="3" fill="#fff" fill-opacity="0.55"/>
<rect x="7" y="27" width="146" height="76" rx="3" fill="#fff" fill-opacity="0.55"/>
<rect x="10.5" y="105.7" width="23.5" height="15.7" rx="3" fill="#fff" fill-opacity="0.6" stroke="#e0e3eb" stroke-width="1"/>
<path d="M19 115.6L22.1 112.4L25.3 115.6" stroke="#131722" stroke-width="1.4" fill="none"/>
<text x="11" y="21" font-size="11.3" fill="#131722" textLength="54.6" lengthAdjust="spacingAndGlyphs">Ethereum</text>
<text x="72.2" y="21" font-size="11.3" fill="#131722" text-anchor="middle">/</text>
<text x="80" y="21" font-size="11.3" fill="#131722" textLength="20" lengthAdjust="spacingAndGlyphs">U.S.</text>
<text x="110" y="21" font-size="11.3" fill="#131722" textLength="31.5" lengthAdjust="spacingAndGlyphs">Dollar</text>
<text x="148.6" y="21" font-size="11.3" fill="#131722" text-anchor="middle">·</text>
<text x="154.5" y="21" font-size="11.3" fill="#131722" textLength="13.3" lengthAdjust="spacingAndGlyphs">1D</text>
<text x="174.2" y="21" font-size="11.3" fill="#131722" text-anchor="middle">·</text>
<text x="179.3" y="21" font-size="11.3" fill="#131722" textLength="53.8" lengthAdjust="spacingAndGlyphs">BITSTAMP</text>
<circle cx="253" cy="16.1" r="6.5" fill="#089981" fill-opacity="0.15"/><circle cx="253" cy="16.1" r="3" fill="#089981"/>
<text x="273.7" y="20.6" font-size="9.6" fill="#131722" textLength="38.8" lengthAdjust="spacingAndGlyphs">O2075.4</text>
<text x="318.5" y="20.6" font-size="9.6" fill="#131722" textLength="38.5" lengthAdjust="spacingAndGlyphs">H2123.6</text>
<text x="361.8" y="20.6" font-size="9.6" fill="#131722" textLength="36.7" lengthAdjust="spacingAndGlyphs">L2053.1</text>
<text x="404.5" y="20.6" font-size="9.6" fill="#131722" textLength="38.9" lengthAdjust="spacingAndGlyphs">C2090.5</text>
<text x="448.5" y="20.6" font-size="9.6" fill="#131722" textLength="24.7" lengthAdjust="spacingAndGlyphs">+15.1</text>
<text x="477" y="20.6" font-size="9.6" fill="#131722" textLength="40.2" lengthAdjust="spacingAndGlyphs">(+0.73%)</text>
<text x="10.6" y="39.2" font-size="9.4" fill="#50535e" textLength="14.4" lengthAdjust="spacingAndGlyphs">MA</text>
<text x="27.5" y="39.2" font-size="9.4" fill="#50535e" textLength="10.6" lengthAdjust="spacingAndGlyphs">21</text>
<text x="41.9" y="39.2" font-size="9.4" fill="#50535e" textLength="23.1" lengthAdjust="spacingAndGlyphs">close</text>
<text x="71.2" y="39.2" font-size="9.4" fill="#50535e" text-anchor="middle">0</text>
<text x="77.5" y="39.2" font-size="9.4" fill="#50535e" textLength="20" lengthAdjust="spacingAndGlyphs">SMA</text>
<text x="101.6" y="39.2" font-size="9.4" fill="#50535e" text-anchor="middle">5</text>
<text x="116.9" y="39.2" font-size="9.4" fill="#2962ff" textLength="30" lengthAdjust="spacingAndGlyphs">1918.4</text>
<text x="10.6" y="58.3" font-size="9.4" fill="#50535e" textLength="14.4" lengthAdjust="spacingAndGlyphs">MA</text>
<text x="27.5" y="58.3" font-size="9.4" fill="#50535e" textLength="10.6" lengthAdjust="spacingAndGlyphs">50</text>
<text x="41.9" y="58.3" font-size="9.4" fill="#50535e" textLength="23.1" lengthAdjust="spacingAndGlyphs">close</text>
<text x="71.2" y="58.3" font-size="9.4" fill="#50535e" text-anchor="middle">0</text>
<text x="77.5" y="58.3" font-size="9.4" fill="#50535e" textLength="20" lengthAdjust="spacingAndGlyphs">SMA</text>
<text x="101.6" y="58.3" font-size="9.4" fill="#50535e" text-anchor="middle">5</text>
<text x="116.9" y="58.3" font-size="9.4" fill="#f23645" textLength="30" lengthAdjust="spacingAndGlyphs">1768.7</text>
<text x="10.6" y="77.9" font-size="9.4" fill="#50535e" textLength="14.4" lengthAdjust="spacingAndGlyphs">MA</text>
<text x="28.1" y="77.9" font-size="9.4" fill="#50535e" textLength="15.6" lengthAdjust="spacingAndGlyphs">200</text>
<text x="47.5" y="77.9" font-size="9.4" fill="#50535e" textLength="23.1" lengthAdjust="spacingAndGlyphs">close</text>
<text x="77.2" y="77.9" font-size="9.4" fill="#50535e" text-anchor="middle">0</text>
<text x="83.5" y="77.9" font-size="9.4" fill="#50535e" textLength="18.4" lengthAdjust="spacingAndGlyphs">SMA</text>
<text x="107.2" y="77.9" font-size="9.4" fill="#50535e" text-anchor="middle">5</text>
<text x="122.5" y="77.9" font-size="9.4" fill="#4caf50" textLength="30" lengthAdjust="spacingAndGlyphs">1487.1</text>
<text x="10.6" y="97.3" font-size="9.4" fill="#50535e" textLength="14.4" lengthAdjust="spacingAndGlyphs">MA</text>
<text x="28.1" y="97.3" font-size="9.4" fill="#50535e" textLength="15.6" lengthAdjust="spacingAndGlyphs">100</text>
<text x="47.5" y="97.3" font-size="9.4" fill="#50535e" textLength="23.1" lengthAdjust="spacingAndGlyphs">close</text>
<text x="77.2" y="97.3" font-size="9.4" fill="#50535e" text-anchor="middle">0</text>
<text x="83.5" y="97.3" font-size="9.4" fill="#50535e" textLength="18.4" lengthAdjust="spacingAndGlyphs">SMA</text>
<text x="107.2" y="97.3" font-size="9.4" fill="#50535e" text-anchor="middle">5</text>
<text x="122.5" y="97.3" font-size="9.4" fill="#ff9800" textLength="30" lengthAdjust="spacingAndGlyphs">1678.1</text>
<!-- right axis -->
<g font-size="10.3" fill="#3b3e48">
<text x="1118.5" y="473.8" textLength="29.6" lengthAdjust="spacingAndGlyphs">900.0</text>
<text x="1118.5" y="447.6" textLength="29.6" lengthAdjust="spacingAndGlyphs">1000.0</text>
<text x="1118.5" y="421.4" textLength="29.6" lengthAdjust="spacingAndGlyphs">1100.0</text>
<text x="1118.5" y="395.1" textLength="29.6" lengthAdjust="spacingAndGlyphs">1200.0</text>
<text x="1118.5" y="368.9" textLength="29.6" lengthAdjust="spacingAndGlyphs">1300.0</text>
<text x="1118.5" y="342.6" textLength="29.6" lengthAdjust="spacingAndGlyphs">1400.0</text>
<text x="1118.5" y="316.4" textLength="29.6" lengthAdjust="spacingAndGlyphs">1500.0</text>
<text x="1118.5" y="290.2" textLength="29.6" lengthAdjust="spacingAndGlyphs">1600.0</text>
<text x="1118.5" y="263.9" textLength="29.6" lengthAdjust="spacingAndGlyphs">1700.0</text>
<text x="1118.5" y="237.7" textLength="29.6" lengthAdjust="spacingAndGlyphs">1800.0</text>
<text x="1118.5" y="211.4" textLength="29.6" lengthAdjust="spacingAndGlyphs">1900.0</text>
<text x="1118.5" y="106.5" textLength="29.6" lengthAdjust="spacingAndGlyphs">2300.0</text>
<text x="1118.5" y="80.2" textLength="29.6" lengthAdjust="spacingAndGlyphs">2400.0</text>
<text x="1118.5" y="54" textLength="29.6" lengthAdjust="spacingAndGlyphs">2500.0</text>
<text x="1118.5" y="27.8" textLength="29.6" lengthAdjust="spacingAndGlyphs">2600.0</text>
</g>
<rect x="1110" y="4" width="48" height="19" fill="#fff"/>
<text x="1118" y="17.75" font-size="10.6" fill="#131722" textLength="17" lengthAdjust="spacingAndGlyphs">USD</text>
<path d="M1137.6 12.6L1139.4 14.4L1141.2 12.6" stroke="#131722" stroke-width="1" fill="none"/>
<!-- horizontal drawn lines -->
<path d="M18 138.5H1110M999 143.8H1110M1003 167.5H1110M460 173.4H1110" stroke="#2962ff" stroke-width="2" fill="none"/>
<rect x="1014.4" y="135.4" width="17.4" height="10.3" fill="#eebbf0" fill-opacity="0.5" stroke="#b05cc8" stroke-width="1"/>
<rect x="1014.4" y="165" width="17.4" height="10.8" fill="#eebbf0" fill-opacity="0.5" stroke="#b05cc8" stroke-width="1"/>
<path d="M0 157.8H1065" stroke="#089981" stroke-width="1" fill="none" opacity="0.12"/><path d="M0 157.8H1065" stroke="#5a8a7e" stroke-width="1" stroke-dasharray="1 1" fill="none" opacity="0.55"/>
<!-- price labels -->
<path d="M1110.1 123.1H1150.2Q1152.2 123.1 1152.2 125.1V148.3Q1152.2 150.3 1150.2 150.3H1110.1Z" fill="#2962ff"/>
<path d="M1110.1 175.7H1151.5V200.5Q1151.5 202.5 1149.5 202.5H1110.1Z" fill="#2962ff"/>
<rect x="1110.2" y="150.7" width="48" height="25" fill="#089981"/>
<rect x="1065" y="150.8" width="44" height="13.1" rx="2" fill="#089981"/>
<g fill="#fff" font-size="10.3" stroke="#fff" stroke-width="0.2">
<text x="1118.6" y="133.9" textLength="29.2" lengthAdjust="spacingAndGlyphs">2163.4</text>
<text x="1118.6" y="147.6" textLength="29.2" lengthAdjust="spacingAndGlyphs">2143.1</text>
<text x="1118.4" y="160.7" textLength="29" lengthAdjust="spacingAndGlyphs">2090.5</text>
<text x="1118.4" y="172.5" textLength="37.6" lengthAdjust="spacingAndGlyphs">02:26:32</text>
<text x="1118.4" y="186.6" textLength="29" lengthAdjust="spacingAndGlyphs">2053.2</text>
<text x="1118.4" y="200.2" textLength="29" lengthAdjust="spacingAndGlyphs">2030.0</text>
<text x="1070" y="160.7" font-size="9.6" textLength="34" lengthAdjust="spacingAndGlyphs" stroke="#fff" stroke-width="0.3">ETHUSD</text>
</g>
<!-- time axis -->
<g font-size="10.3" fill="#3b3e48" text-anchor="middle">
<text x="27.7" y="500.7" text-anchor="start" textLength="14.9" lengthAdjust="spacingAndGlyphs">Feb</text>
<text x="157.7" y="500.7" text-anchor="start" textLength="14.3" lengthAdjust="spacingAndGlyphs">Apr</text>
<text x="222.3" y="500.7" text-anchor="start" textLength="16.8" lengthAdjust="spacingAndGlyphs">May</text>
<text x="291.4" y="500.7" text-anchor="start" textLength="14.9" lengthAdjust="spacingAndGlyphs">Jun</text>
<text x="357.9" y="500.7" text-anchor="start" textLength="11.9" lengthAdjust="spacingAndGlyphs">Jul</text>
<text x="423.9" y="500.7" text-anchor="start" textLength="16.3" lengthAdjust="spacingAndGlyphs">Aug</text>
<text x="491.6" y="500.7" text-anchor="start" textLength="15.9" lengthAdjust="spacingAndGlyphs">Sep</text>
<text x="558.5" y="500.7" text-anchor="start" textLength="14.5" lengthAdjust="spacingAndGlyphs">Oct</text>
<text x="625.6" y="500.7" text-anchor="start" textLength="16.3" lengthAdjust="spacingAndGlyphs">Nov</text>
<text x="691.5" y="500.7" text-anchor="start" textLength="16" lengthAdjust="spacingAndGlyphs">Dec</text>
<text x="757.4" y="500.7" font-weight="bold" textLength="21.2" lengthAdjust="spacingAndGlyphs" text-anchor="start" >2023</text>
<text x="829" y="500.7" text-anchor="start" textLength="14.9" lengthAdjust="spacingAndGlyphs">Feb</text>
<text x="958.4" y="500.7" text-anchor="start" textLength="14.3" lengthAdjust="spacingAndGlyphs">Apr</text>
<text x="1022.6" y="500.7" text-anchor="start" textLength="16.8" lengthAdjust="spacingAndGlyphs">May</text>
<text x="1092.3" y="500.7" text-anchor="start" textLength="14.9" lengthAdjust="spacingAndGlyphs">Jun</text>
</g>
<!-- logo -->
<g fill="#131722">
<path d="M13.1 461.9H22.7V474H18V466.1H13.1Z"/>
<circle cx="27.2" cy="464.2" r="2.2"/>
<path d="M32.6 461.9H37.2L32.1 474H27.4Z"/>
</g>
<!-- gear -->
<g transform="translate(1137.4 496.6)" stroke="#131722" fill="none">
<circle r="3.7" stroke-width="1.1"/>
<path d="M0 -3.6L0 -5.6M2.5 -2.5L4 -4M3.6 -0L5.6 -0M2.5 2.5L4 4M0 3.6L0 5.6M-2.5 2.5L-4 4M-3.6 0L-5.6 0M-2.5 -2.5L-4 -4" stroke-width="1.5"/>
</g>
</svg>
</div>
</body></html>
